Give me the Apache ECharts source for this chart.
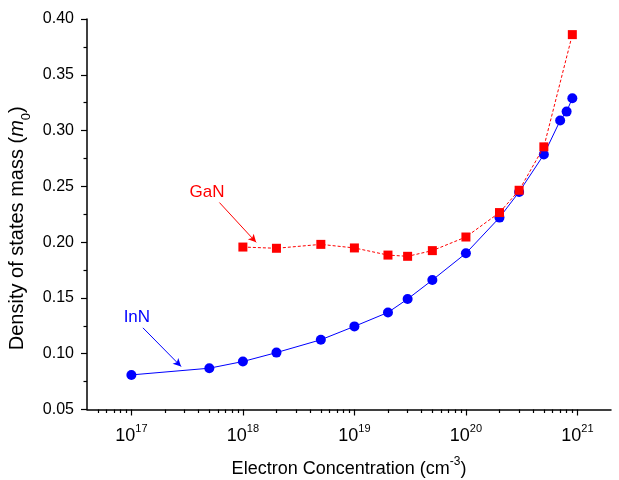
<!DOCTYPE html>
<html><head><meta charset="utf-8">
<script src="https://cdn.jsdelivr.net/npm/echarts@6/dist/echarts.min.js"></script>
<style>html,body{margin:0;padding:0;background:#fff}#c{width:619px;height:480px}</style>
</head><body><div id="c"></div>
<script>
// ---- data ----
const innX = [1e17, 5e17, 1e18, 2e18, 5e18, 1e19, 2e19, 3e19, 5e19, 1e20, 2e20, 3e20, 5e20, 7e20, 8e20, 9e20];
const innY = [0.081, 0.087, 0.093, 0.101, 0.1125, 0.1245, 0.137, 0.149, 0.166, 0.190, 0.222, 0.245, 0.2785, 0.309, 0.317, 0.329];
const ganX = [1e18, 2e18, 5e18, 1e19, 2e19, 3e19, 5e19, 1e20, 2e20, 3e20, 5e20, 9e20];
const ganY = [0.1956, 0.1945, 0.198, 0.1948, 0.1884, 0.1873, 0.1924, 0.2046, 0.2265, 0.2465, 0.2854, 0.386];
const xMajorTicks = [1e17, 1e18, 1e19, 1e20, 1e21];
const xMin = 4e16, xMax = 2e21;
const yMin = 0.05, yMax = 0.40, yStep = 0.05;
// annotation anchors (data space)
const ganLabel = [4.76e17, 0.245];
const ganArrow = [[6.16e17, 0.2355], [1.315e18, 0.1998]];
const innLabel = [1.12e17, 0.1328];
const innArrow = [[1.27e17, 0.1232], [2.79e17, 0.0885]];

const xMinorTicks = [];
for (let e = 16; e <= 21; e++) {
  for (let m = 2; m <= 9; m++) {
    const v = m * Math.pow(10, e);
    if (v > xMin && v <= xMax * 1.0001) xMinorTicks.push(v);
  }
}

const FONT = 'Liberation Sans, Arial, sans-serif';
const chart = echarts.init(document.getElementById('c'), null, {renderer: 'canvas'});
const axisColor = '#000';

chart.setOption({
  animation: false,
  backgroundColor: '#fff',
  textStyle: {fontFamily: FONT},
  grid: {left: 87, right: 8, top: 19, bottom: 70.5, containLabel: false, outerBoundsMode: 'none'},
  xAxis: [{
    type: 'log', logBase: 10, min: xMin, max: xMax, position: 'bottom',
    axisLine: {onZero: false, lineStyle: {color: axisColor, width: 1.5}},
    axisTick: {show: true, length: 6, lineStyle: {color: axisColor, width: 1.2}, customValues: xMajorTicks},
    axisLabel: {
      customValues: xMajorTicks, margin: 14, color: '#000',
      formatter: v => '{b|10}{s|' + Math.round(Math.log10(v)) + '}',
      rich: {
        b: {fontSize: 18, fontFamily: FONT, color: '#000', lineHeight: 22, verticalAlign: 'bottom'},
        s: {fontSize: 11, fontFamily: FONT, color: '#000', verticalAlign: 'top', lineHeight: 22}
      }
    },
    splitLine: {show: false},
    name: '{a|Electron Concentration (cm}{s|-3}{a|)}',
    nameLocation: 'middle', nameGap: 46,
    nameTextStyle: {
      rich: {
        a: {fontSize: 18, fontFamily: FONT, color: '#000', lineHeight: 23, verticalAlign: 'bottom'},
        s: {fontSize: 12, fontFamily: FONT, color: '#000', lineHeight: 23, verticalAlign: 'top'}
      }
    }
  }, {
    type: 'log', logBase: 10, min: xMin, max: xMax, position: 'bottom',
    axisLine: {show: false, onZero: false},
    axisTick: {show: true, length: 3.5, lineStyle: {color: axisColor, width: 1.2}, customValues: xMinorTicks},
    axisLabel: {show: false},
    splitLine: {show: false}
  }],
  yAxis: {
    type: 'value', min: yMin, max: yMax, interval: yStep,
    axisLine: {show: true, onZero: false, lineStyle: {color: axisColor, width: 1.5}},
    axisTick: {show: true, length: 6, lineStyle: {color: axisColor, width: 1.2}},
    minorTick: {show: true, splitNumber: 2, length: 3.5, lineStyle: {color: axisColor, width: 1.2}},
    axisLabel: {fontSize: 16, color: '#000', margin: 13, formatter: v => v.toFixed(2)},
    splitLine: {show: false},
    name: '{a|Density of states mass (}{i|m}{s|0}{a|)}',
    nameLocation: 'middle', nameRotate: 90, nameGap: 54, nameMoveOverlap: false,
    nameTextStyle: {
      padding: [0, 28, 0, 0],
      rich: {
        a: {fontSize: 20, fontFamily: FONT, color: '#000', lineHeight: 26, verticalAlign: 'top'},
        i: {fontSize: 20, fontFamily: FONT, fontStyle: 'italic', color: '#000', lineHeight: 26, verticalAlign: 'top'},
        s: {fontSize: 13, fontFamily: FONT, color: '#000', lineHeight: 26, verticalAlign: 'bottom'}
      }
    }
  },
  series: [{
    name: 'GaN', type: 'line', xAxisIndex: 0,
    data: ganX.map((x, i) => [x, ganY[i]]),
    symbol: 'rect', symbolSize: 9,
    itemStyle: {color: '#ff0000'},
    lineStyle: {color: '#ff0000', width: 1, type: [3, 2]},
    markLine: {
      silent: true, symbol: ['none', 'arrow'], symbolSize: [6, 8],
      lineStyle: {color: '#ff0000', width: 1, type: 'solid'},
      label: {show: false},
      data: [[{coord: ganArrow[0]}, {coord: ganArrow[1]}]]
    },
    markPoint: {
      silent: true, symbol: 'circle', symbolSize: 1,
      itemStyle: {color: 'rgba(0,0,0,0)'},
      label: {show: true, position: 'inside', color: '#ff0000', fontSize: 17, fontFamily: FONT, formatter: 'GaN'},
      data: [{coord: ganLabel}]
    },
    z: 3
  }, {
    name: 'InN', type: 'line', xAxisIndex: 0,
    data: innX.map((x, i) => [x, innY[i]]),
    symbol: 'circle', symbolSize: 10,
    itemStyle: {color: '#0000ff'},
    lineStyle: {color: '#0000ff', width: 1},
    markLine: {
      silent: true, symbol: ['none', 'arrow'], symbolSize: [6, 8],
      lineStyle: {color: '#0000ff', width: 1, type: 'solid'},
      label: {show: false},
      data: [[{coord: innArrow[0]}, {coord: innArrow[1]}]]
    },
    markPoint: {
      silent: true, symbol: 'circle', symbolSize: 1,
      itemStyle: {color: 'rgba(0,0,0,0)'},
      label: {show: true, position: 'inside', color: '#0000ff', fontSize: 17, fontFamily: FONT, formatter: 'InN'},
      data: [{coord: innLabel}]
    },
    z: 2
  }]
});
</script>
</body></html>
